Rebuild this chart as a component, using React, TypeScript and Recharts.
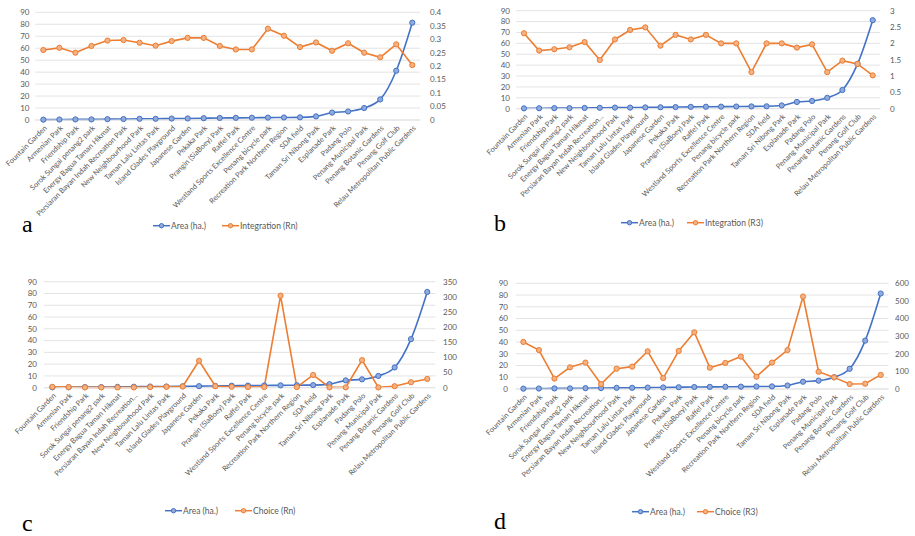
import React from 'react';
import { LineChart, Line, XAxis, YAxis, CartesianGrid } from 'recharts';

const categories = [
  'Fountain Garden', 'Armenian Park', 'Friendship Park', 'Sorok Sungai penang2 park',
  'Energy Bagua Taman Hikmat', 'Persiaran Bayan Indah Recreation Park', 'New Neighbourhood Park',
  'Taman Lalu Lintas Park', 'Island Glades Playground', 'Japanese Garden', 'Pekaka Park',
  'Prangin (SiaBoey) Park', 'Raffel Park', 'Westland Sports Excellence Centre', 'Penang bicycle park',
  'Recreation Park Northern Region', 'SDA field', 'Taman Sri Nibong Park', 'Esplanade Park',
  'Padang Polo', 'Penang Municipal Park', 'Penang Botanic Gardens', 'Penang Golf Club',
  'Relau Metropolitan Public Gardens',
];
const categoriesShort = [
  'Fountain Garden', 'Armenian Park', 'Friendship Park', 'Sorok Sungai penang2 park',
  'Energy Bagua Taman Hikmat', 'Persiaran Bayan Indah Recreation...', 'New Neighbourhood Park',
  'Taman Lalu Lintas Park', 'Island Glades Playground', 'Japanese Garden', 'Pekaka Park',
  'Prangin (SiaBoey) Park', 'Raffel Park', 'Westland Sports Excellence Centre', 'Penang bicycle park',
  'Recreation Park Northern Region', 'SDA field', 'Taman Sri Nibong Park', 'Esplanade Park',
  'Padang Polo', 'Penang Municipal Park', 'Penang Botanic Gardens', 'Penang Golf Club',
  'Relau Metropolitan Public Gardens',
];

const area = [0.3, 0.4, 0.5, 0.5, 0.7, 0.8, 1.0, 1.0, 1.2, 1.3, 1.5, 1.7, 1.8, 1.9, 2.0, 2.1, 2.2, 3.0, 6.2, 7.1, 10.0, 17.2, 41.2, 81.3];
const integrationRn = [0.26, 0.268, 0.25, 0.275, 0.295, 0.297, 0.287, 0.276, 0.293, 0.305, 0.305, 0.275, 0.262, 0.262, 0.339, 0.313, 0.271, 0.288, 0.257, 0.285, 0.25, 0.233, 0.281, 0.204];
const integrationR3 = [2.31, 1.78, 1.82, 1.88, 2.04, 1.49, 2.12, 2.41, 2.49, 1.93, 2.26, 2.12, 2.26, 2.0, 2.0, 1.12, 2.0, 2.0, 1.87, 1.97, 1.12, 1.47, 1.37, 1.02];
const choiceRn = [3, 2, 1, 1, 1, 1, 2, 3, 4, 89, 5, 3, 2, 2, 304, 2, 42, 1, 1, 91, 1, 5, 18, 29];
const choiceR3 = [267, 221, 59, 123, 150, 28, 115, 127, 214, 62, 216, 322, 121, 148, 184, 70, 150, 221, 525, 98, 66, 28, 30, 80];

const leftTicks = [0, 10, 20, 30, 40, 50, 60, 70, 80, 90];
const ticksA = [0, 0.05, 0.1, 0.15, 0.2, 0.25, 0.3, 0.35, 0.4];
const ticksB = [0, 0.5, 1, 1.5, 2, 2.5, 3];
const ticksC = [0, 50, 100, 150, 200, 250, 300, 350];
const ticksD = [0, 100, 200, 300, 400, 500, 600];

const areaName = 'Area (ha.)';
const BLUE = '#4472C4';
const ORANGE = '#ED7D31';
const TEXT = '#595959';
const GRID = '#E3E3E3';
const FONT = 'Lato, "Open Sans", sans-serif';
const PAD = 14;

const CatTick = (props: any) => {
  const { x, y, payload } = props;
  const ax = x + 4;
  const ay = y + 8.5;
  return (
    <text x={ax} y={ay} transform={`rotate(-45, ${ax}, ${ay})`} textAnchor="end" fontSize={7.4} fill={TEXT} fontFamily={FONT}>
      {payload.value}
    </text>
  );
};

type PanelProps = {
  left: number; top: number; width: number; height: number;
  plotLeft: number; plotRight: number; plotTop: number; plotBottom: number;
  leftGap: number; rightGap: number;
  labels: string[]; values: number[]; rightTicks: number[]; seriesName: string;
};

const Panel = (p: PanelProps) => {
  const data = p.labels.map((name, i) => ({ name, area: area[i], v: p.values[i] }));
  const rightMax = p.rightTicks[p.rightTicks.length - 1];
  const halfBand = (p.plotRight - p.plotLeft) / (p.labels.length * 2);
  return (
    <div style={{ position: 'absolute', left: p.left - PAD, top: p.top }}>
      <LineChart
        width={p.width + PAD}
        height={p.height}
        data={data}
        margin={{ top: p.plotTop, right: 0, bottom: 0, left: 0 }}
      >
        <CartesianGrid vertical={false} stroke={GRID} yAxisId="l" />
        <XAxis
          dataKey="name"
          interval={0}
          padding={{ left: halfBand, right: halfBand }}
          tick={<CatTick />}
          tickLine={false}
          tickSize={0}
          tickMargin={0}
          axisLine={{ stroke: GRID }}
          height={p.height - p.plotBottom}
        />
        <YAxis
          yAxisId="l"
          orientation="left"
          domain={[0, 90]}
          ticks={leftTicks}
          width={p.plotLeft + PAD}
          axisLine={false}
          tickLine={false}
          tickSize={0}
          tickMargin={p.leftGap}
          tick={{ fontSize: 8, fill: TEXT, fontFamily: FONT }}
          interval={0}
        />
        <YAxis
          yAxisId="r"
          orientation="right"
          domain={[0, rightMax]}
          ticks={p.rightTicks}
          width={p.width - p.plotRight}
          axisLine={false}
          tickLine={false}
          tickSize={0}
          tickMargin={p.rightGap}
          tick={{ fontSize: 8, fill: TEXT, fontFamily: FONT, textAnchor: 'start' }}
          interval={0}
        />
        <Line
          yAxisId="l"
          type="monotone"
          dataKey="area"
          name={areaName}
          stroke={BLUE}
          strokeWidth={1.6}
          dot={{ r: 2.6, fill: '#8FAADC', stroke: BLUE, strokeWidth: 1 }}
          isAnimationActive={false}
        />
        <Line
          yAxisId="r"
          type="linear"
          dataKey="v"
          name={p.seriesName}
          stroke={ORANGE}
          strokeWidth={1.6}
          dot={{ r: 2.6, fill: '#F4B183', stroke: ORANGE, strokeWidth: 1 }}
          isAnimationActive={false}
        />
      </LineChart>
    </div>
  );
};

const LegendRow = ({ x1, x2, y, second }: { x1: number; x2: number; y: number; second: string }) => (
  <g fontFamily={FONT} fontSize={8.5} fill={TEXT}>
    <line x1={x1} x2={x1 + 17} y1={y} y2={y} stroke={BLUE} strokeWidth={1.5} />
    <circle cx={x1 + 8.5} cy={y} r={2.2} fill="#8FAADC" stroke={BLUE} strokeWidth={1} />
    <text x={x1 + 18} y={y} dominantBaseline="central">{areaName}</text>
    <line x1={x2} x2={x2 + 17} y1={y} y2={y} stroke={ORANGE} strokeWidth={1.5} />
    <circle cx={x2 + 8.5} cy={y} r={2.2} fill="#F4B183" stroke={ORANGE} strokeWidth={1} />
    <text x={x2 + 18} y={y} dominantBaseline="central">{second}</text>
  </g>
);

export default function App() {
  return (
    <div style={{ position: 'absolute', left: 0, top: 0, width: 915, height: 536, background: '#fff', overflow: 'hidden' }}>
      <Panel left={0} top={0} width={460} height={270} plotLeft={35.3} plotRight={420.3} plotTop={12.3} plotBottom={120}
        leftGap={5.8} rightGap={9.7} labels={categories} values={integrationRn} rightTicks={ticksA} seriesName="Integration (Rn)" />
      <Panel left={460} top={0} width={455} height={270} plotLeft={56.4} plotRight={420.3} plotTop={10.7} plotBottom={108.7}
        leftGap={6.4} rightGap={9.7} labels={categoriesShort} values={integrationR3} rightTicks={ticksB} seriesName="Integration (R3)" />
      <Panel left={0} top={270} width={470} height={266} plotLeft={44.2} plotRight={435.4} plotTop={11.7} plotBottom={117.7}
        leftGap={7.2} rightGap={7.6} labels={categoriesShort} values={choiceRn} rightTicks={ticksC} seriesName="Choice (Rn)" />
      <Panel left={460} top={270} width={455} height={266} plotLeft={55.6} plotRight={428.5} plotTop={13.3} plotBottom={119}
        leftGap={7.6} rightGap={6.5} labels={categoriesShort} values={choiceR3} rightTicks={ticksD} seriesName="Choice (R3)" />
      <svg width={915} height={536} style={{ position: 'absolute', left: 0, top: 0, pointerEvents: 'none' }}>
        <LegendRow x1={153} x2={222} y={225.7} second="Integration (Rn)" />
        <LegendRow x1={621} x2={687} y={222.7} second="Integration (R3)" />
        <LegendRow x1={165} x2={235} y={510.7} second="Choice (Rn)" />
        <LegendRow x1={632} x2={697} y={511.7} second="Choice (R3)" />
        <g fontFamily='"Liberation Serif", "Times New Roman", serif' fontSize={24} fill="#000">
          <text x={22} y={232}>a</text>
          <text x={494} y={231}>b</text>
          <text x={22} y={531}>c</text>
          <text x={494} y={529}>d</text>
        </g>
      </svg>
    </div>
  );
}
